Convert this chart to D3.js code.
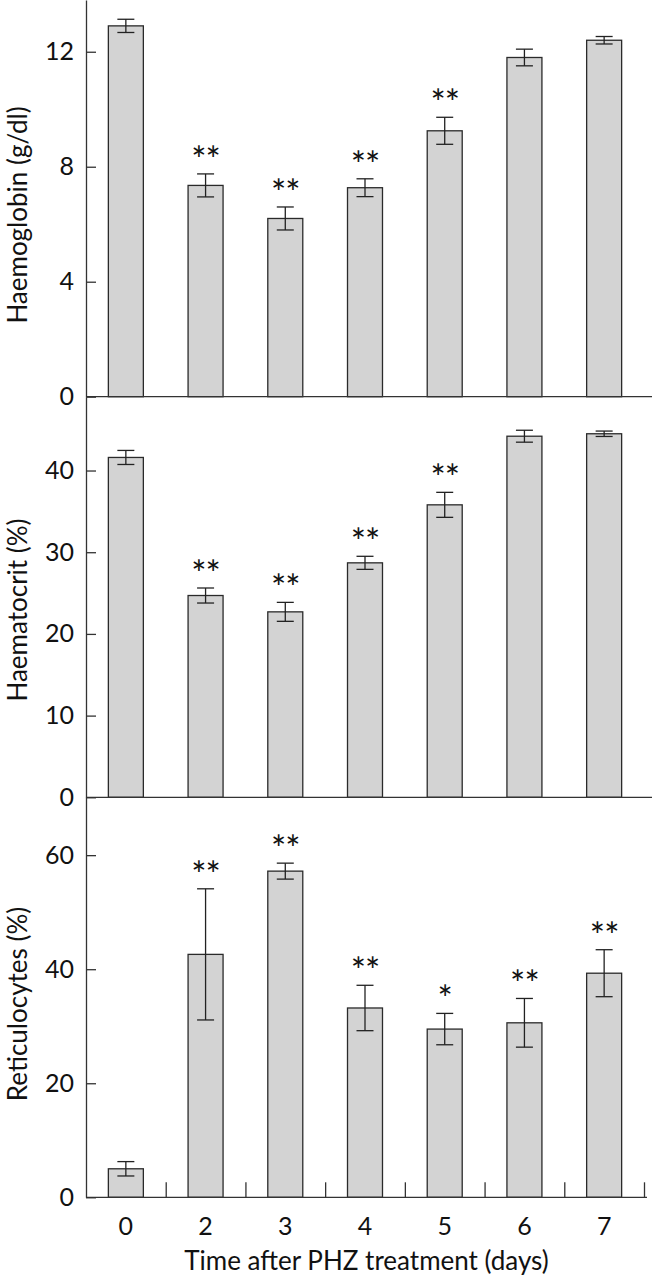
<!DOCTYPE html>
<html>
<head>
<meta charset="utf-8">
<script src="https://cdn.jsdelivr.net/npm/d3@7"></script>
<style>
  body { margin: 0; background: #fff; }
  svg { display: block; }
  text { font-family: Lato, "DejaVu Sans", sans-serif; fill: #111; }
</style>
</head>
<body>
<svg class="svg"></svg>
<script>
let days = ["0", "2", "3", "4", "5", "6", "7"]

let hbMean = [12.9, 7.35, 6.2, 7.27, 9.25, 11.8, 12.4]
let hbErr = [0.23, 0.4, 0.4, 0.31, 0.47, 0.29, 0.13]
let hbSig = ["", "**", "**", "**", "**", "", ""]
let hbTicks = [0, 4, 8, 12]

let hctMean = [41.6, 24.7, 22.7, 28.7, 35.8, 44.2, 44.5]
let hctErr = [0.86, 0.92, 1.16, 0.8, 1.53, 0.73, 0.33]
let hctSig = ["", "**", "**", "**", "**", "", ""]
let hctTicks = [0, 10, 20, 30, 40]

let retMean = [5.0, 42.6, 57.2, 33.2, 29.5, 30.6, 39.3]
let retErr = [1.26, 11.5, 1.4, 3.98, 2.75, 4.27, 4.12]
let retSig = ["", "**", "**", "**", "*", "**", "**"]
let retTicks = [0, 20, 40, 60]

let svg = d3.select(".svg").attr("width", 652).attr("height", 1280)

let left = 86
let x = d3.scaleBand().domain(days).range([left, 644]).paddingInner(0.561).paddingOuter(0.2805)

let panels = [
    {title: "Haemoglobin (g/dl)", mean: hbMean, err: hbErr, sig: hbSig, ticks: hbTicks, max: 13.8, top: 0, bottom: 396.7, lineEnd: 652, titleY: 215},
    {title: "Haematocrit (%)", mean: hctMean, err: hctErr, sig: hctSig, ticks: hctTicks, max: 49, top: 397, bottom: 797.3, lineEnd: 652, titleY: 610},
    {title: "Reticulocytes (%)", mean: retMean, err: retErr, sig: retSig, ticks: retTicks, max: 70.2, top: 797, bottom: 1197.3, lineEnd: 647, titleY: 1004}
]

panels.forEach((p) => {
    let y = d3.scaleLinear().domain([0, p.max]).range([p.bottom, p.top])
    let g = svg.append("g")

    let rows = days.map((d, i) => ({day: d, mean: p.mean[i], err: p.err[i], sig: p.sig[i]}))

    // bars
    g.selectAll("rect")
    .data(rows)
    .enter()
    .append("rect")
    .attr("x", (d) => x(d.day))
    .attr("y", (d) => y(d.mean))
    .attr("width", x.bandwidth())
    .attr("height", (d) => y(0) - y(d.mean))
    .attr("fill", "#d3d3d3")
    .attr("stroke", "#2a2a2a")
    .attr("stroke-width", 1.3)

    // error bars
    let eb = g.selectAll(".err")
    .data(rows)
    .enter()
    .append("g")
    .attr("class", "err")
    .attr("stroke", "#222")
    .attr("stroke-width", 1.3)
    let cx = (d) => x(d.day) + x.bandwidth() / 2
    eb.append("line")
    .attr("x1", cx).attr("x2", cx)
    .attr("y1", (d) => y(d.mean + d.err))
    .attr("y2", (d) => y(d.mean - d.err))
    eb.append("line")
    .attr("x1", (d) => cx(d) - 8.5).attr("x2", (d) => cx(d) + 8.5)
    .attr("y1", (d) => y(d.mean + d.err)).attr("y2", (d) => y(d.mean + d.err))
    eb.append("line")
    .attr("x1", (d) => cx(d) - 8.5).attr("x2", (d) => cx(d) + 8.5)
    .attr("y1", (d) => y(d.mean - d.err)).attr("y2", (d) => y(d.mean - d.err))

    // significance stars
    g.selectAll(".sig")
    .data(rows.filter((d) => d.sig))
    .enter()
    .append("text")
    .attr("class", "sig")
    .attr("x", cx)
    .attr("y", (d) => y(d.mean + d.err) - 1)
    .attr("text-anchor", "middle")
    .style("font-size", "36px")
    .style("letter-spacing", "-1px")
    .text((d) => d.sig)

    // baseline
    g.append("line")
    .attr("x1", left).attr("x2", p.lineEnd)
    .attr("y1", y(0)).attr("y2", y(0))
    .attr("stroke", "#333")
    .attr("stroke-width", 1.3)

    // y axis, ticks pointing inward
    let yAxis = d3.axisLeft(y).tickValues(p.ticks).tickSizeInner(-10).tickSizeOuter(0).tickPadding(12)
    let ya = g.append("g").attr("transform", "translate(" + left + ",0)").call(yAxis)
    ya.select(".domain").attr("stroke", "#333").attr("stroke-width", 1.3)
    ya.selectAll(".tick line").attr("stroke", "#333").attr("stroke-width", 1.3)
    ya.selectAll(".tick text").style("font-size", "25px").style("font-family", "Lato, sans-serif").attr("fill", "#111")

    g.append("text")
    .attr("transform", "translate(27," + p.titleY + ") rotate(-90)")
    .attr("text-anchor", "middle")
    .style("font-size", "26px")
    .text(p.title)
})

// bottom axis: separators between bands, labels at centres
let bottomY = panels[2].bottom
let bounds = d3.scaleLinear().domain([0, days.length]).range(x.range())
let sepAxis = d3.axisTop(bounds).tickValues(d3.range(1, days.length + 1)).tickSize(15).tickFormat("")
let sa = svg.append("g").attr("transform", "translate(0," + bottomY + ")").call(sepAxis)
sa.select(".domain").remove()
sa.selectAll(".tick line").attr("stroke", "#333").attr("stroke-width", 1.3)

let xAxis = d3.axisBottom(x).tickSize(0).tickPadding(20)
let xa = svg.append("g").attr("transform", "translate(0," + bottomY + ")").call(xAxis)
xa.select(".domain").remove()
xa.selectAll(".tick text").style("font-size", "25px").style("font-family", "Lato, sans-serif").attr("fill", "#111")

svg.append("text")
.attr("x", (left + 647) / 2)
.attr("y", 1270)
.attr("text-anchor", "middle")
.style("font-size", "26px")
.text("Time after PHZ treatment (days)")
</script>
</body>
</html>
